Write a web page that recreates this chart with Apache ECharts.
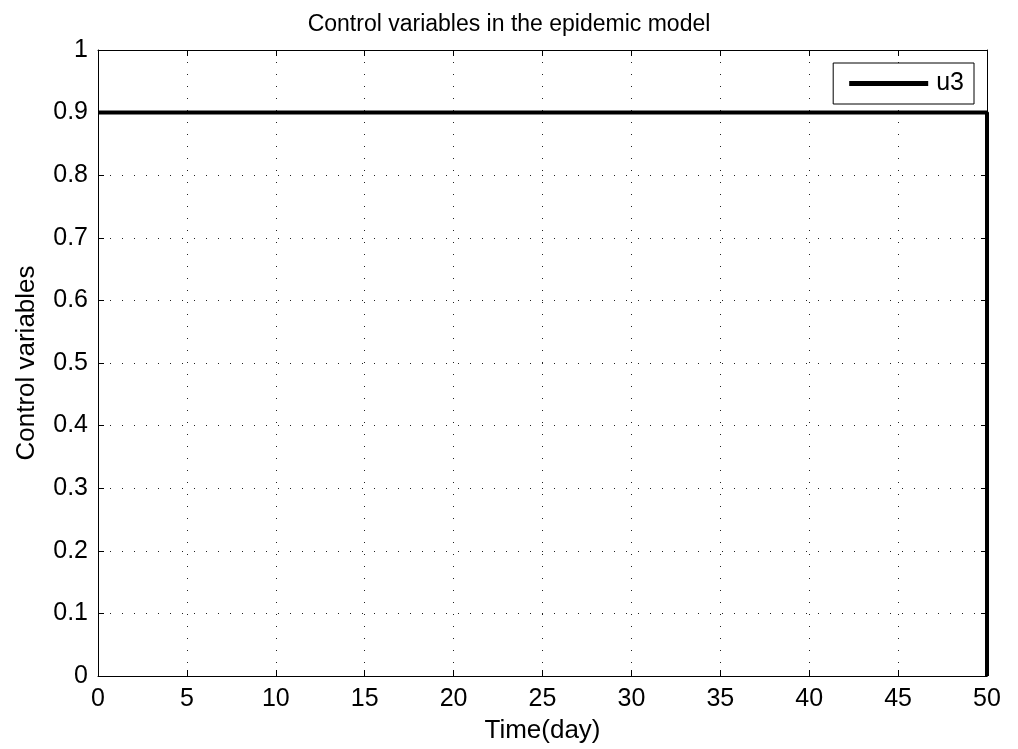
<!DOCTYPE html>
<html><head><meta charset="utf-8">
<script src="https://cdn.jsdelivr.net/npm/echarts@6/dist/echarts.min.js"></script>
<style>html,body{margin:0;padding:0;background:#fff}#c{width:1018px;height:749px}</style>
</head><body><div id="c"></div>
<script>
var seriesName = 'u3';
var timeValues = [0, 50, 50];
var u3Values = [0.9, 0.9, 0];
var xTicks = [0,5,10,15,20,25,30,35,40,45,50];
var yTicks = [0,0.1,0.2,0.3,0.4,0.5,0.6,0.7,0.8,0.9,1];

var data = timeValues.map(function(t, i){ return [t, u3Values[i]]; });
var font = 'Liberation Sans, Arial, sans-serif';
var chart = echarts.init(document.getElementById('c'));
var grid = {left: 98, right: 31, top: 50, bottom: 71};
var splitLine = {show: true, lineStyle: {color: '#222', type: [1, 11], width: 1}};
chart.setOption({
  animation: false,
  title: {text: 'Control variables in the epidemic model', left: 'center', top: 8,
    textStyle: {fontFamily: font, fontSize: 23, fontWeight: 'normal', color: '#000'}},
  grid: grid,
  legend: {
    right: 44, top: 63, data: [{name: seriesName, icon: 'rect'}],
    itemWidth: 79, itemHeight: 5, itemGap: 4,
    borderColor: '#000', borderWidth: 1, padding: [8, 10, 8, 16],
    textStyle: {fontFamily: font, fontSize: 25, color: '#000', padding: [0, 0, 0, 3]},
    backgroundColor: '#fff'
  },
  xAxis: [{
    type: 'value', min: 0, max: 50, interval: 5,
    name: 'Time(day)', nameLocation: 'middle', nameGap: 42,
    nameTextStyle: {fontFamily: font, fontSize: 26, color: '#000'},
    axisLine: {show: true, onZero: false, lineStyle: {color: '#000', width: 1}},
    axisTick: {show: true, inside: true, length: 6, lineStyle: {color: '#000'}},
    axisLabel: {fontFamily: font, fontSize: 25, color: '#000', margin: 11},
    splitLine: splitLine
  }, {
    type: 'value', min: 0, max: 50, interval: 5, position: 'top',
    axisLine: {show: true, onZero: false, lineStyle: {color: '#000', width: 1}},
    axisTick: {show: true, inside: true, length: 6, lineStyle: {color: '#000'}},
    axisLabel: {show: false}, splitLine: {show: false}
  }],
  yAxis: [{
    type: 'value', min: 0, max: 1, interval: 0.1,
    name: 'Control variables', nameLocation: 'middle', nameGap: 58,
    nameTextStyle: {fontFamily: font, fontSize: 26, color: '#000'},
    axisLine: {show: true, onZero: false, lineStyle: {color: '#000', width: 1}},
    axisTick: {show: true, inside: true, length: 6, lineStyle: {color: '#000'}},
    axisLabel: {fontFamily: font, fontSize: 25, color: '#000', margin: 10,
      formatter: function(v){ return String(Math.round(v*10)/10); }},
    splitLine: splitLine
  }, {
    type: 'value', min: 0, max: 1, interval: 0.1, position: 'right',
    axisLine: {show: true, onZero: false, lineStyle: {color: '#000', width: 1}},
    axisTick: {show: true, inside: true, length: 6, lineStyle: {color: '#000'}},
    axisLabel: {show: false}, splitLine: {show: false}
  }],
  series: [{
    name: seriesName, type: 'line', data: data, showSymbol: false, symbol: 'none',
    lineStyle: {color: '#000', width: 4}, itemStyle: {color: '#000'}, clip: false
  }]
});
</script></body></html>
